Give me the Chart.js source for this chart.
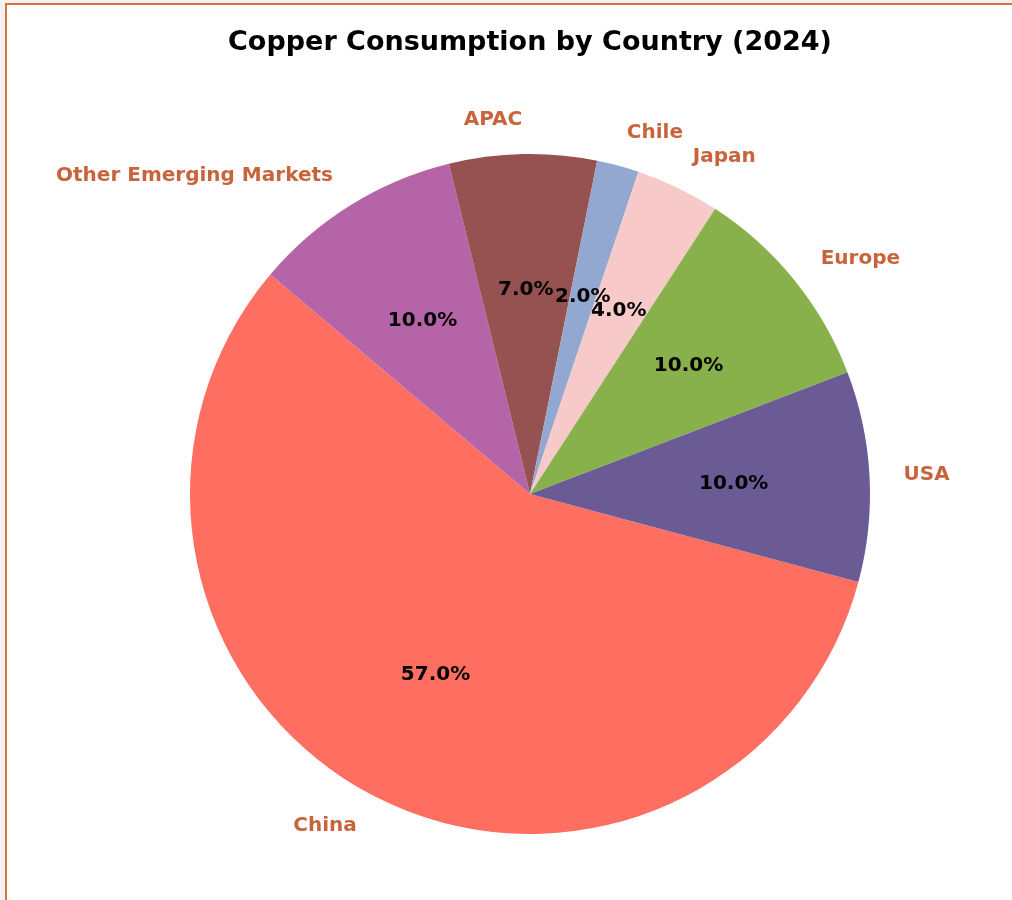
<!DOCTYPE html>
<html>
<head>
<meta charset="utf-8">
<script src="https://cdn.jsdelivr.net/npm/chart.js@4"></script>
<style>
  html, body { margin: 0; padding: 0; background: #f2f2f2; overflow: hidden; }
  #frame { position: absolute; left: 5px; top: 3px; width: 1100px; height: 1000px;
           border: 2px solid #E06E40; background: #ffffff; }
  #chart { display: block; }
</style>
</head>
<body>
<div id="frame"><canvas id="chart" width="1046" height="900"></canvas></div>
<script>
// Data (drawn clockwise in Chart.js; order reversed from the counter-clockwise original)
const categories = ["China", "Other Emerging Markets", "APAC", "Chile", "Japan", "Europe", "USA"];
const shares = [57, 10, 7, 2, 4, 10, 10];
const sliceColors = ["#FF6F61", "#B565A7", "#955251", "#92A8D1", "#F7CAC9", "#88B04B", "#6B5B95"];
const chartTitle = "Copper Consumption by Country (2024)";

const FONT = "'DejaVu Sans', sans-serif";
const total = shares.reduce((a, b) => a + b, 0);

const labelPlugin = {
  id: 'pieLabels',
  afterDatasetsDraw(chart) {
    const ctx = chart.ctx;
    const meta = chart.getDatasetMeta(0);
    ctx.save();
    meta.data.forEach((arc, i) => {
      const p = arc.getProps(['x', 'y', 'startAngle', 'endAngle', 'outerRadius'], true);
      const mid = (p.startAngle + p.endAngle) / 2;
      const c = Math.cos(mid), s = Math.sin(mid);
      // outer category label
      ctx.font = "bold 20px " + FONT;
      ctx.fillStyle = "#C8643C";
      ctx.textBaseline = "middle";
      ctx.textAlign = c >= 0 ? "left" : "right";
      ctx.fillText(categories[i], p.x + c * p.outerRadius * 1.1, p.y + s * p.outerRadius * 1.1);
      // percentage label
      ctx.fillStyle = "#000000";
      ctx.textAlign = "center";
      const pct = (shares[i] / total * 100).toFixed(1) + "%";
      ctx.fillText(pct, p.x + c * p.outerRadius * 0.6, p.y + s * p.outerRadius * 0.6);
    });
    ctx.restore();
  }
};

new Chart(document.getElementById('chart'), {
  type: 'pie',
  data: {
    labels: categories,
    datasets: [{
      data: shares,
      backgroundColor: sliceColors,
      borderWidth: 0,
      hoverOffset: 0
    }]
  },
  options: {
    responsive: false,
    animation: false,
    rotation: 105,
    layout: { padding: { left: 183, right: 183, top: 0, bottom: 71 } },
    plugins: {
      legend: { display: false },
      tooltip: { enabled: false },
      title: {
        display: true,
        text: chartTitle,
        color: "#000000",
        font: { family: FONT, size: 27, weight: 'bold', lineHeight: 1.2 },
        padding: { top: 21.8, bottom: 94.8 }
      }
    }
  },
  plugins: [labelPlugin]
});
</script>
</body>
</html>
